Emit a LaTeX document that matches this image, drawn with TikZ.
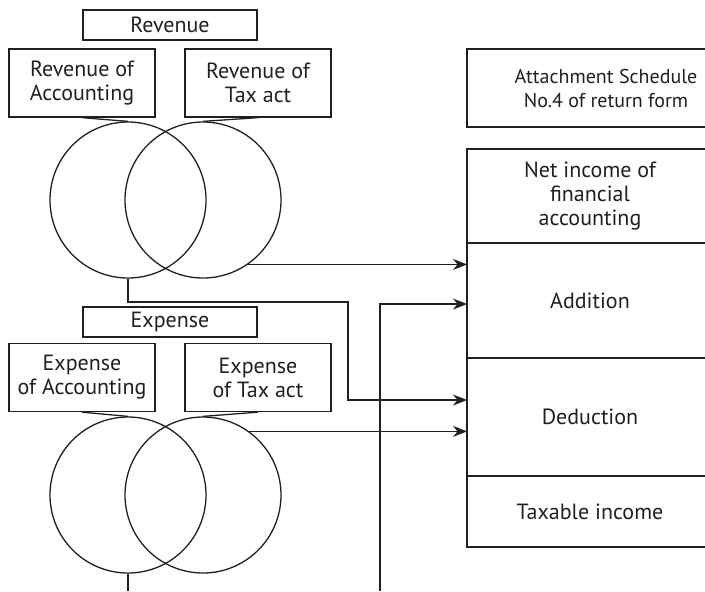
\documentclass[tikz,border=0pt]{standalone}
\usepackage{fontspec}
\setmainfont{PT Sans}
\usepackage{xcolor}
\usetikzlibrary{arrows.meta,positioning}
\definecolor{ink}{HTML}{231F20}

\begin{document}
\begin{tikzpicture}[x=0.5pt,y=-0.5pt,color=ink,line width=0.65pt,
            >={Stealth[length=7pt,width=5.5pt]},
            font=\fontsize{11}{12}\selectfont]
        \tikzstyle{titlebox}=[draw,minimum width=87pt,minimum height=15pt,inner sep=0pt]
        \tikzstyle{itembox}=[draw,align=center,minimum width=73pt,minimum height=34pt,inner sep=0pt]
        \tikzstyle{ring}=[draw,circle,minimum size=78pt,inner sep=0pt]
        \tikzstyle{row}=[draw,align=center,minimum width=123pt,inner sep=0pt,outer sep=0pt]

        \useasboundingbox (0,0) rectangle (705,591);
        \clip (0,0) rectangle (705,591);

        % revenue
        \node[titlebox] (rev) at (170,25) {Revenue};
        \node[itembox] (racc) at (82,83) {Revenue of\\Accounting};
        \node[itembox] (rtax) at (258,83) {Revenue of\\Tax act};
        \node[ring] (rc1) at (128,200) {};
        \node[ring] (rc2) at (203,200) {};

        % expense
        \node[titlebox] (exp) at (170,322) {Expense};
        \node[itembox] (eacc) at (82,377.5) {Expense\\of Accounting};
        \node[itembox] (etax) at (258,377.5) {Expense\\of Tax act};
        \node[ring] (ec1) at (128,495) {};
        \node[ring] (ec2) at (203,495) {};

        % return form
        \node[draw,align=center,minimum width=139pt,minimum height=39pt,inner sep=0pt,
              font=\fontsize{10}{12}\selectfont] (att) at (606,88) {Attachment Schedule\\No.4 of return form};
        \node[row,minimum height=47pt] (net) at (590,196) {Net income of\\financial\\accounting};
        \node[row,minimum height=57.5pt,below=0pt of net] (add) {Addition};
        \node[row,minimum height=59pt,below=0pt of add] (ded) {Deduction};
        \node[row,minimum height=35.5pt,below=0pt of ded] (tax) {Taxable income};
        \draw[line width=1.1pt] (net.south west) -- (net.south east);

        \coordinate (k1) at (348,302);
        \coordinate (b1) at (128,591);
        \coordinate (b2) at (380,591);

        \draw (racc.south) -- (rc1.north);
        \draw (rtax.south) -- (rc2.north);
        \draw (eacc.south) -- (ec1.north);
        \draw (etax.south) -- (ec2.north);

        \draw[->] (rc2.-55) -- (rc2.-55 -| add.west);
        \draw[->] (rc1.south) |- (k1) |- ([yshift=8.5pt]ded.west);
        \draw[->] (ec2.54) -- (ec2.54 -| ded.west);
        \draw[->] (b2) |- ([yshift=-1.75pt]add.west);
        \draw (ec1.south) -- (b1);
    \end{tikzpicture}
\end{document}
